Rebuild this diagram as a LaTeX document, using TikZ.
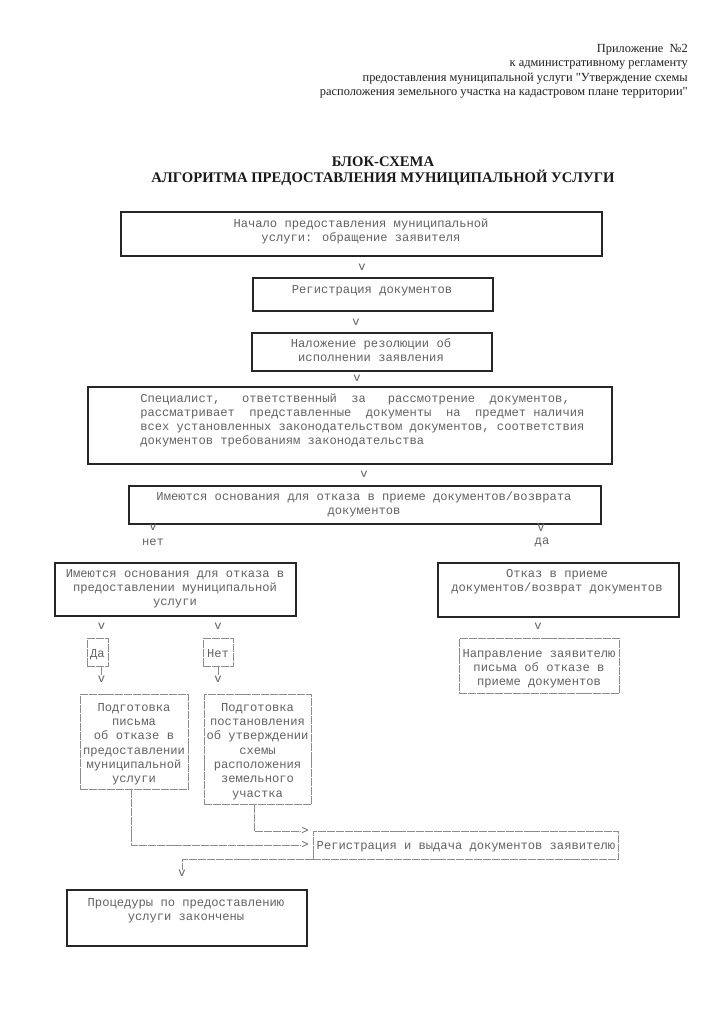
\documentclass[tikz,border=0pt]{standalone}
\usepackage{fontspec}
\setmainfont{Liberation Serif}[Ligatures=TeXOff]
\newfontfamily\monof{Liberation Mono}
\newcommand\mkbox[6]{\node[#6, minimum width={(#4-#2)*0.75pt}, minimum height={(#5-#3)*0.75pt}] (#1) at (#2,#3) {};}
\begin{document}
\begin{tikzpicture}[x=0.75pt,y=-0.75pt,
  mono/.style={font=\monof\fontsize{9.1}{10.7}\selectfont, text=black!62, inner sep=0pt, align=center},
  txt/.style={mono, anchor=north, yshift=-1.6pt, execute at begin node=\rule{0pt}{7pt}},
  ltxt/.style={mono, align=left, anchor=north west, yshift=-1.6pt, execute at begin node=\rule{0pt}{7pt}},
  heavy/.style={draw=black!85, line width=1.3pt, inner sep=0pt, anchor=north west},
  light/.style={draw=black!45, line width=0.6pt, dash pattern=on 6pt off 0.7pt, inner sep=0pt, anchor=north west},
  pg/.style={draw=black!45, line width=0.6pt, dash pattern=on 6pt off 0.7pt},
  arr/.style={mono}
]
\fill[white] (0,0) rectangle (723,1024);
\useasboundingbox (0,0) rectangle (723,1024);

% header
\node[font=\fontsize{9.3}{10.8}\selectfont, text=black!88, align=right, anchor=north east, inner sep=0pt] (hdr) at (688,44)
 {Приложение\ \ №2\\к административному регламенту\\предоставления муниципальной услуги "Утверждение схемы\\расположения земельного участка на кадастровом плане территории"};
\node[font=\bfseries\fontsize{11}{12}\selectfont, text=black!90, align=center, anchor=north, inner sep=0pt] (ttl) at (383,157)
 {БЛОК-СХЕМА\\АЛГОРИТМА ПРЕДОСТАВЛЕНИЯ МУНИЦИПАЛЬНОЙ УСЛУГИ};

% boxes
\mkbox{b1}{120}{211}{601}{255}{heavy}
\node[txt] (t1) at (361,216) {Начало предоставления муниципальной\\услуги: обращение заявителя};
\node[arr] (v1) at (362,267) {v};

\mkbox{b2}{252}{277}{492}{310}{heavy}
\node[txt] (t2) at (372,282) {Регистрация документов};
\node[arr] (v2) at (356,322) {v};

\mkbox{b3}{251}{332}{491}{370}{heavy}
\node[txt] (t3) at (371,336) {Наложение резолюции об\\исполнении заявления};
\node[arr] (v3) at (357,378) {v};

\mkbox{b4}{87}{386}{611}{463}{heavy}
\node[ltxt] (t4) at (140,391) {Специалист,\ \ \ ответственный\ \ за\ \ \ рассмотрение\ \ документов,\\рассматривает\ \ представленные\ \ документы\ \ на\ \ предмет наличия\\всех установленных законодательством документов, соответствия\\документов требованиям законодательства};
\node[arr] (v4) at (364,474) {v};

\mkbox{b5}{128}{485}{600}{523}{heavy}
\node[txt] (t5) at (364,489) {Имеются основания для отказа в приеме документов/возврата\\документов};
\node[arr] (vno) at (153,527) {v};
\node[arr] (lno) at (153,542) {нет};
\node[arr] (vyes) at (541,527) {V};
\node[arr] (lyes) at (542,542) {да};

\mkbox{b6}{54}{562}{295}{615}{heavy}
\node[txt] (t6) at (175,567) {Имеются основания для отказа в\\предоставлении муниципальной\\услуги};

\mkbox{b7}{437}{562}{678}{616}{heavy}
\node[txt] (t7) at (557,567) {Отказ в приеме\\документов/возврат документов};
\node[arr] (v7) at (538,626) {v};

\mkbox{b8}{459}{638}{619}{693}{light}
\node[txt] (t8) at (539,647) {Направление заявителю\\письма об отказе в\\приеме документов};

\node[arr] (vda1) at (101.5,626) {v};
\mkbox{da}{87}{638}{108}{666}{light}
\node[txt] (tda) at (97.5,646) {Да};
\node[arr] (vda2) at (101.5,679) {v};
\draw[pg] (da.south -| vda2.north) -- (vda2.north);

\node[arr] (vnet1) at (218,626) {v};
\mkbox{net}{203}{638}{233}{666}{light}
\node[txt] (tnet) at (218,646) {Нет};
\node[arr] (vnet2) at (218,679) {v};
\draw[pg] (net.south -| vnet2.north) -- (vnet2.north);

\mkbox{b11}{80}{694}{188}{789}{light}
\node[txt] (t11) at (134,701) {Подготовка\\письма\\об отказе в\ \ \\предоставлении\\муниципальной\\услуги};

\mkbox{b12}{204}{694}{311}{804}{light}
\node[txt] (t12) at (257.5,701) {Подготовка\\постановления\\об утверждении\\схемы\\расположения\\земельного\\участка};

\mkbox{b13}{313}{831}{618}{859}{light}
\node[txt] (t13) at (466,838) {Регистрация и выдача документов заявителю};
\node[arr] (g1) at (305,831) {>};
\node[arr] (g2) at (305,845) {>};
\draw[pg] ([xshift=-2.6pt]b12.south) |- (g1.west);
\draw[pg] ([xshift=-2.25pt]b11.south) |- (g2.west);
\node[arr] (ve) at (182,873) {v};
\draw[pg] (b13.south west) -| (ve.north);

\mkbox{b14}{66}{889}{306}{945}{heavy}
\node[txt] (t14) at (186,896) {Процедуры по предоставлению\\услуги закончены};
\end{tikzpicture}
\end{document}
